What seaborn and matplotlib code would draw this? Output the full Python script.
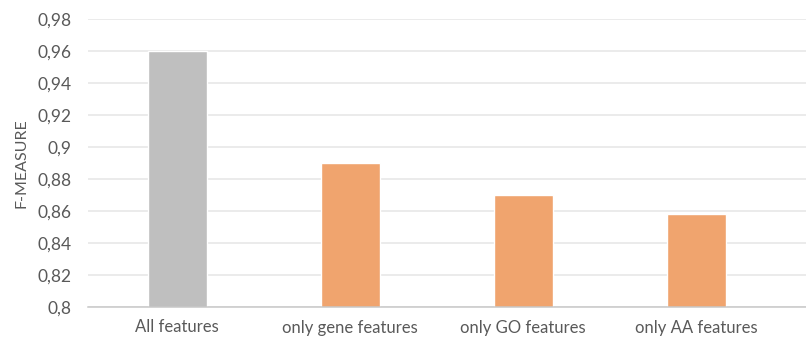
import matplotlib
matplotlib.use("Agg")
import matplotlib.pyplot as plt
import seaborn as sns
import pandas as pd

categories = ["All features", "only gene features", "only GO features", "only AA features"]
f_measure = [0.96, 0.89, 0.87, 0.858]
bar_colors = ["#BFBFBF", "#F0A46E", "#F0A46E", "#F0A46E"]
y_ticks = [0.80, 0.82, 0.84, 0.86, 0.88, 0.90, 0.92, 0.94, 0.96, 0.98]
y_tick_labels = ["0,8", "0,82", "0,84", "0,86", "0,88", "0,9", "0,92", "0,94", "0,96", "0,98"]

sns.set_theme(style="white")
plt.rcParams["font.family"] = ["Lato", "DejaVu Sans"]

df = pd.DataFrame({"feature set": categories, "F-MEASURE": f_measure})

fig = plt.figure(figsize=(8.06, 3.41), dpi=100)
ax = fig.add_axes([88 / 806, 1 - 307 / 341, 1 - 88 / 806, (307 - 19) / 341])

sns.barplot(data=df, x="feature set", y="F-MEASURE", hue="feature set",
            palette=bar_colors, legend=False, width=0.341, saturation=1,
            ax=ax, zorder=3)

ax.set_ylim(0.8, 0.98)
ax.set_xlim(-0.515, 3.635)
ax.set_yticks(y_ticks)
ax.set_yticklabels(y_tick_labels)
ax.yaxis.grid(True, color="#E6E6E6", linewidth=1.1, zorder=0)
ax.set_axisbelow(True)

for side in ["top", "right", "left"]:
    ax.spines[side].set_visible(False)
ax.spines["bottom"].set_color("#C8C8C8")
ax.spines["bottom"].set_linewidth(1.1)
ax.spines["bottom"].set_zorder(4)

ax.tick_params(axis="y", length=0, pad=12, labelsize=12.5, labelcolor="#595959")
ax.tick_params(axis="x", length=0, pad=9, labelsize=12, labelcolor="#595959")
ax.set_xlabel("")
ax.set_ylabel("F-MEASURE", fontsize=11.5, color="#595959", labelpad=6)

fig.savefig("out.png", dpi=100)
